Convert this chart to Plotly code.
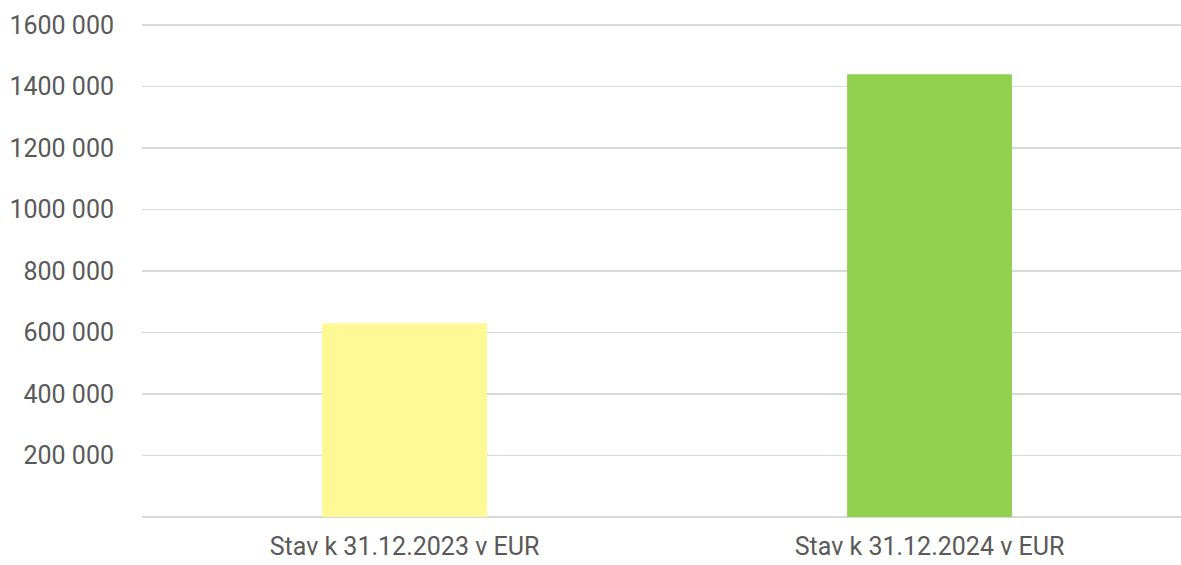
import plotly.graph_objects as go

categories = ["Stav k 31.12.2023 v EUR", "Stav k 31.12.2024 v EUR"]
values = [630000, 1440000]
bar_colors = ["#FEF994", "#92D050"]
y_ticks = [0, 200000, 400000, 600000, 800000, 1000000, 1200000, 1400000, 1600000]
y_tick_labels = ["", "200 000", "400 000", "600 000", "800 000", "1000 000", "1200 000", "1400 000", "1600 000"]

FONT = "Roboto"
FS = 25
W, H = 1181, 565
PADPX = 4
pad = PADPX * 1600000 / 492  # a few pixels in data units so edge gridlines are drawn

fig = go.Figure(go.Bar(
    x=categories, y=values, marker=dict(color=bar_colors, line=dict(width=0)),
    width=0.314, hoverinfo="skip",
))

fig.update_layout(
    width=W, height=H,
    margin=dict(l=142, r=0, t=25 - PADPX, b=48 - PADPX, pad=0),
    paper_bgcolor="white", plot_bgcolor="white",
    showlegend=False,
    font=dict(family=FONT, size=FS, color="#595959"),
    xaxis=dict(range=[-0.5, 1.479], showgrid=False, zeroline=False, showline=False,
               ticks="", ticklabelstandoff=12 - PADPX, tickfont=dict(size=FS, color="#595959")),
    yaxis=dict(range=[-pad, 1600000 + pad], tickvals=y_ticks, ticktext=y_tick_labels,
               showgrid=True, gridcolor="#D9D9D9", gridwidth=1.5, zeroline=False,
               showline=False, ticks="", ticklabelstandoff=27,
               tickfont=dict(size=FS, color="#595959")),
)

fig.write_html(
    "out.html",
    config={"displayModeBar": False, "staticPlot": True},
    post_script="document.body.style.margin='0';document.body.style.overflow='hidden';",
)
